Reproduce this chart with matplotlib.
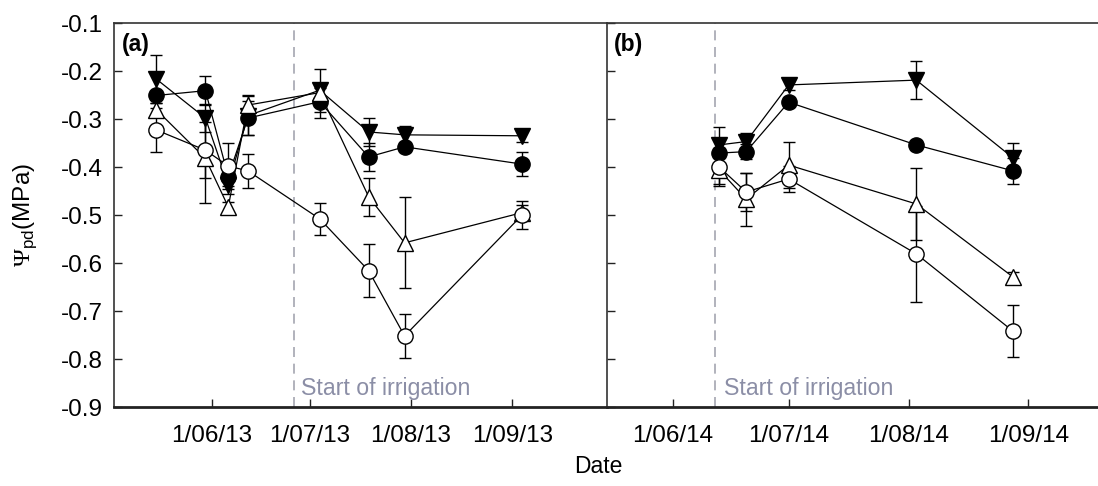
import datetime as dt

import matplotlib
matplotlib.use("Agg")
import matplotlib.pyplot as plt

plt.rcParams["font.family"] = ["Liberation Sans", "DejaVu Sans"]
plt.rcParams["axes.unicode_minus"] = False
plt.rcParams["mathtext.fontset"] = "custom"
plt.rcParams["mathtext.rm"] = "Liberation Serif"
plt.rcParams["mathtext.sf"] = "Liberation Sans"

D = dt.datetime

# 2013 season (panel a)
dates_13 = [D(2013, 5, 15), D(2013, 5, 30), D(2013, 6, 6), D(2013, 6, 12),
            D(2013, 7, 4), D(2013, 7, 19), D(2013, 7, 30), D(2013, 9, 4)]
circ_f_13 = [-0.251, -0.241, -0.420, -0.298, -0.264, -0.379, -0.358, -0.394]
circ_f_13_err = [0.010, 0.030, 0.020, 0.035, 0.033, 0.030, 0.010, 0.025]
tri_f_13 = [-0.217, -0.298, -0.437, -0.293, -0.240, -0.327, -0.333, -0.335]
tri_f_13_err = [0.050, 0.030, 0.020, 0.040, 0.045, 0.030, 0.018, 0.012]
tri_o_13 = [-0.281, -0.382, -0.483, -0.271, -0.245, -0.462, -0.558, -0.495]
tri_o_13_err = [0.015, 0.093, 0.010, 0.022, 0.010, 0.040, 0.095, 0.015]
circ_o_13 = [-0.323, -0.365, -0.398, -0.408, -0.508, -0.616, -0.752, -0.500]
circ_o_13_err = [0.045, 0.058, 0.048, 0.035, 0.033, 0.055, 0.045, 0.030]

# 2014 season (panel b)
dates_14 = [D(2014, 6, 13), D(2014, 6, 20), D(2014, 7, 1), D(2014, 8, 3),
            D(2014, 8, 28)]
circ_f_14 = [-0.371, -0.368, -0.265, -0.354, -0.408]
circ_f_14_err = [0.010, 0.015, 0.010, 0.010, 0.027]
tri_f_14 = [-0.354, -0.347, -0.229, -0.219, -0.381]
tri_f_14_err = [0.037, 0.017, 0.010, 0.040, 0.030]
tri_o_14 = [-0.406, -0.467, -0.396, -0.477, -0.629]
tri_o_14_err = [0.030, 0.055, 0.048, 0.075, 0.010]
circ_o_14 = [-0.400, -0.452, -0.425, -0.581, -0.742]
circ_o_14_err = [0.040, 0.040, 0.027, 0.100, 0.054]

irrigation_13 = D(2013, 6, 26)
irrigation_14 = D(2014, 6, 12)

ticks_13 = [D(2013, 6, 1), D(2013, 7, 1), D(2013, 8, 1), D(2013, 9, 1)]
ticks_14 = [D(2014, 6, 1), D(2014, 7, 1), D(2014, 8, 1), D(2014, 9, 1)]
tick_labels_13 = ["1/06/13", "1/07/13", "1/08/13", "1/09/13"]
tick_labels_14 = ["1/06/14", "1/07/14", "1/08/14", "1/09/14"]

y_ticks = [-0.9, -0.8, -0.7, -0.6, -0.5, -0.4, -0.3, -0.2, -0.1]

STYLES = [
    ("o", "black", 11),   # filled circle
    ("v", "black", 11),   # filled down-triangle
    ("^", "white", 11),   # open up-triangle
    ("o", "white", 11),   # open circle
]
IRR_COLOR = "#8b8ea6"

fig = plt.figure(figsize=(10.98, 4.86), dpi=100)
bottom, top = 1 - 407 / 486, 1 - 23 / 486
ax_a = fig.add_axes([114 / 1098, bottom, (607 - 114) / 1098, top - bottom])
ax_b = fig.add_axes([607 / 1098, bottom, (1098 - 607) / 1098, top - bottom])


def draw_panel(ax, dates, series, irr_date, ticks, tick_labels, xlim, tag):
    ax.axvline(irr_date, color="#a4a6b0", lw=1.2, ls=(0, (6, 4)), zorder=1)
    ax.text(irr_date + dt.timedelta(days=2.2), -0.885, "Start of irrigation",
            color=IRR_COLOR, fontsize=16.7, ha="left", va="bottom")
    for (vals, errs), (mk, fc, ms) in zip(series, STYLES):
        ax.errorbar(dates, vals, yerr=errs, color="black", lw=0.9,
                    elinewidth=1.0, capsize=4.5, capthick=1.0,
                    marker=mk, ms=ms, mfc=fc, mec="black", mew=1.0, zorder=3)
    ax.set_xlim(*xlim)
    ax.set_ylim(-0.9, -0.1)
    ax.set_xticks(ticks)
    ax.set_xticklabels(tick_labels)
    ax.set_yticks(y_ticks)
    ax.tick_params(direction="in", length=6, width=1, labelsize=17.5, pad=13,
                   colors="#222222")
    ax.tick_params(axis="x", labelcolor="black")
    ax.tick_params(axis="y", labelcolor="black", pad=8)
    for side in ("left", "top", "right"):
        ax.spines[side].set_linewidth(1.2)
        ax.spines[side].set_color("#333333")
    ax.spines["bottom"].set_linewidth(2.0)
    ax.spines["bottom"].set_color("#222222")
    ax.text(0.015, 0.975, tag, transform=ax.transAxes, fontsize=16.5,
            fontweight="bold", ha="left", va="top")


draw_panel(ax_a, dates_13,
           [(circ_f_13, circ_f_13_err), (tri_f_13, tri_f_13_err),
            (tri_o_13, tri_o_13_err), (circ_o_13, circ_o_13_err)],
           irrigation_13, ticks_13, tick_labels_13,
           (D(2013, 5, 2), D(2013, 9, 30)), "(a)")
draw_panel(ax_b, dates_14,
           [(circ_f_14, circ_f_14_err), (tri_f_14, tri_f_14_err),
            (tri_o_14, tri_o_14_err), (circ_o_14, circ_o_14_err)],
           irrigation_14, ticks_14, tick_labels_14,
           (D(2014, 5, 15), D(2014, 9, 19)), "(b)")

ax_a.spines["right"].set_visible(False)
ax_b.spines["right"].set_visible(False)
ax_b.tick_params(axis="y", labelleft=False)

fig.text(25 / 1098, 1 - 215 / 486, r"$\mathrm{\Psi}_{\mathsf{pd}}$(MPa)",
         rotation=90, ha="center", va="center", fontsize=17.5)
fig.text(598 / 1098, 1 - 466 / 486, "Date", ha="center", va="center",
         fontsize=16.5)

fig.savefig("out.png", dpi=100)
